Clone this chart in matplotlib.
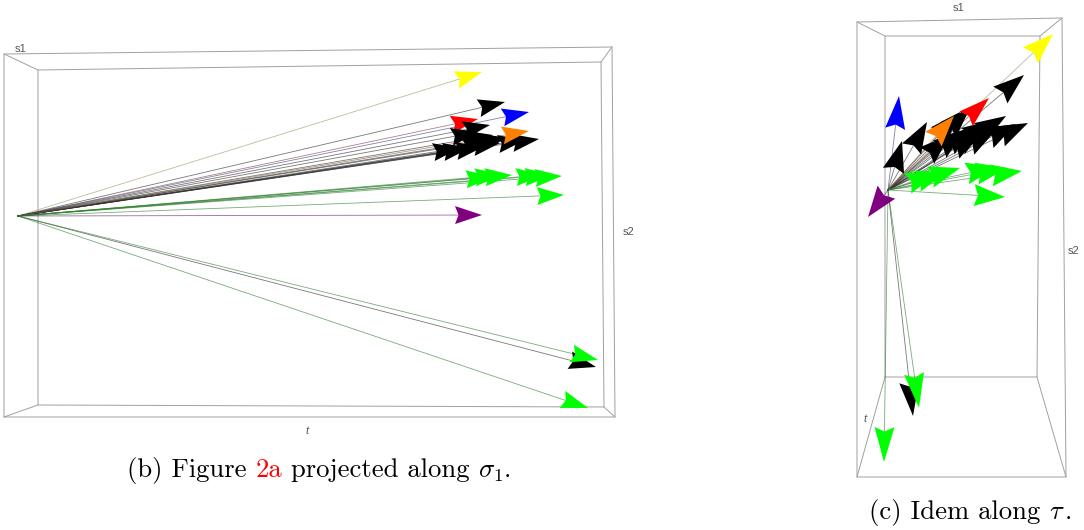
import numpy as np
import matplotlib
matplotlib.use("Agg")
import matplotlib.pyplot as plt
from matplotlib.patches import Polygon

plt.rcParams['mathtext.fontset'] = 'cm'
plt.rcParams['axes.unicode_minus'] = False

# arrow tips, pixel coordinates (x, y)
b_origin = (18, 216)
b_yellow = [(482, 72)]
b_red = [(478, 119)]
b_blue = [(529, 112)]
b_purple = [(482, 215)]
b_orange = [(529, 131)]
b_black = [(505, 102), (490, 125), (539, 139), (525, 140), (507, 138), (493, 135),
           (483, 147), (470, 148), (460, 148), (478, 132), (488, 140), (500, 143)]
b_green = [(512, 175), (502, 175), (493, 177), (562, 176), (552, 175), (543, 175), (564, 195)]
b_low_green = [(598, 360), (588, 408)]
b_low_black = [(596, 367)]

c_origin = (888, 190)
c_yellow = [(1053, 34)]
c_red = [(989, 98)]
c_blue = [(899, 96)]
c_purple = [(868, 217)]
c_orange = [(954, 116)]
c_black = [(1024, 75), (1028, 123), (1006, 116), (1016, 124), (993, 120), (927, 122),
           (902, 141), (960, 112), (970, 108), (973, 127), (980, 133), (964, 130),
           (985, 128), (950, 135), (996, 130)]
c_green = [(1022, 171), (1007, 168), (997, 167), (960, 168), (947, 172), (937, 173), (1005, 197)]
c_low_green = [(884, 462), (919, 408)]
c_low_black = [(913, 416)]

# box edges of the two 3d frames
b_outer = [(4, 54), (612, 47), (615, 417), (4, 417)]
b_inner = [(38, 70), (601, 62), (604, 407), (38, 405)]
c_outer = [(857, 22), (1062, 18), (1066, 477), (857, 477)]
c_inner = [(885, 36), (1040, 36), (1037, 377), (885, 377)]


def draw_box(ax, outer, inner):
    outer = np.array(outer)
    inner = np.array(inner)
    for pts in (outer, inner):
        ax.add_patch(Polygon(pts, closed=True, fill=False, ec="#a0a0a0", lw=0.7, zorder=1))
    for p, q in zip(outer, inner):
        ax.plot([p[0], q[0]], [p[1], q[1]], color="#a0a0a0", lw=0.7, zorder=1)


def draw_arrows(ax, origin, tips, color, line_color, L=27, W=9):
    o = np.array(origin, dtype=float)
    for tip in tips:
        tip = np.array(tip, dtype=float)
        d = tip - o
        d = d / np.hypot(d[0], d[1])
        n = np.array([-d[1], d[0]])
        base = tip - L * d
        notch = tip - 0.87 * L * d
        ax.plot([o[0], notch[0]], [o[1], notch[1]], color=line_color, lw=0.6, alpha=0.65, zorder=2)
        ax.add_patch(Polygon([tip, base + W * n, notch, base - W * n], closed=True,
                             fc=color, ec="none", zorder=3))


def put_caption(fig, ax, x, y, pieces):
    # pieces laid out one after the other, so the red reference keeps its colour
    r = fig.canvas.get_renderer()
    for s, col in pieces:
        t = ax.text(x, y, s, color=col, family="cmr10", fontsize=19.2, ha="left", va="baseline")
        x += t.get_window_extent(r).width


fig = plt.figure(figsize=(10.84, 5.30), dpi=100)
ax = fig.add_axes([0, 0, 1, 1])
ax.set_xlim(0, 1084)
ax.set_ylim(530, 0)
ax.axis("off")

draw_box(ax, b_outer, b_inner)
draw_box(ax, c_outer, c_inner)

draw_arrows(ax, b_origin, b_yellow, "#ffff00", "#9a9a60")
draw_arrows(ax, b_origin, b_red, "#ff0000", "#804040")
draw_arrows(ax, b_origin, b_black, "#000000", "#303030")
draw_arrows(ax, b_origin, b_blue, "#0000ff", "#404080")
draw_arrows(ax, b_origin, b_orange, "#ff8000", "#806030")
draw_arrows(ax, b_origin, b_green, "#00ff00", "#2f7f2f")
draw_arrows(ax, b_origin, b_purple, "#800080", "#602060")
draw_arrows(ax, b_origin, b_low_black, "#000000", "#303030")
draw_arrows(ax, b_origin, b_low_green, "#00ff00", "#2f7f2f")

draw_arrows(ax, c_origin, c_yellow, "#ffff00", "#9a9a60", L=31, W=11)
draw_arrows(ax, c_origin, c_black, "#000000", "#303030", L=31, W=11)
draw_arrows(ax, c_origin, c_red, "#ff0000", "#804040", L=31, W=10)
draw_arrows(ax, c_origin, c_blue, "#0000ff", "#404080", L=33, W=10)
draw_arrows(ax, c_origin, c_orange, "#ff8000", "#806030", L=31, W=11)
draw_arrows(ax, c_origin, c_green, "#00ff00", "#2f7f2f", L=31, W=11)
draw_arrows(ax, c_origin, c_purple, "#800080", "#602060", L=31, W=11)
draw_arrows(ax, c_origin, c_low_black, "#000000", "#303030", L=34, W=10)
draw_arrows(ax, c_origin, c_low_green, "#00ff00", "#2f7f2f", L=35, W=10)

# axis labels of the 3d boxes
for x, y, s, st in [(21, 49, "s1", "normal"), (629, 232, "s2", "normal"), (307, 431, "t", "italic"),
                    (959, 8, "s1", "normal"), (1074, 251, "s2", "normal"), (865, 419, "t", "italic")]:
    ax.text(x, y, s, fontsize=8, color="#555555", style=st, ha="center", va="center", family="Liberation Sans")

fig.canvas.draw()
put_caption(fig, ax, 127, 477, [("(b) Figure ", "black"), ("2a", "red"), (" projected along ", "black"),
                                (r"$\sigma_1$", "black"), (".", "black")])
put_caption(fig, ax, 869, 519, [("(c) Idem along ", "black"), (r"$\tau$", "black"), (".", "black")])

fig.savefig("out.png", dpi=100)
